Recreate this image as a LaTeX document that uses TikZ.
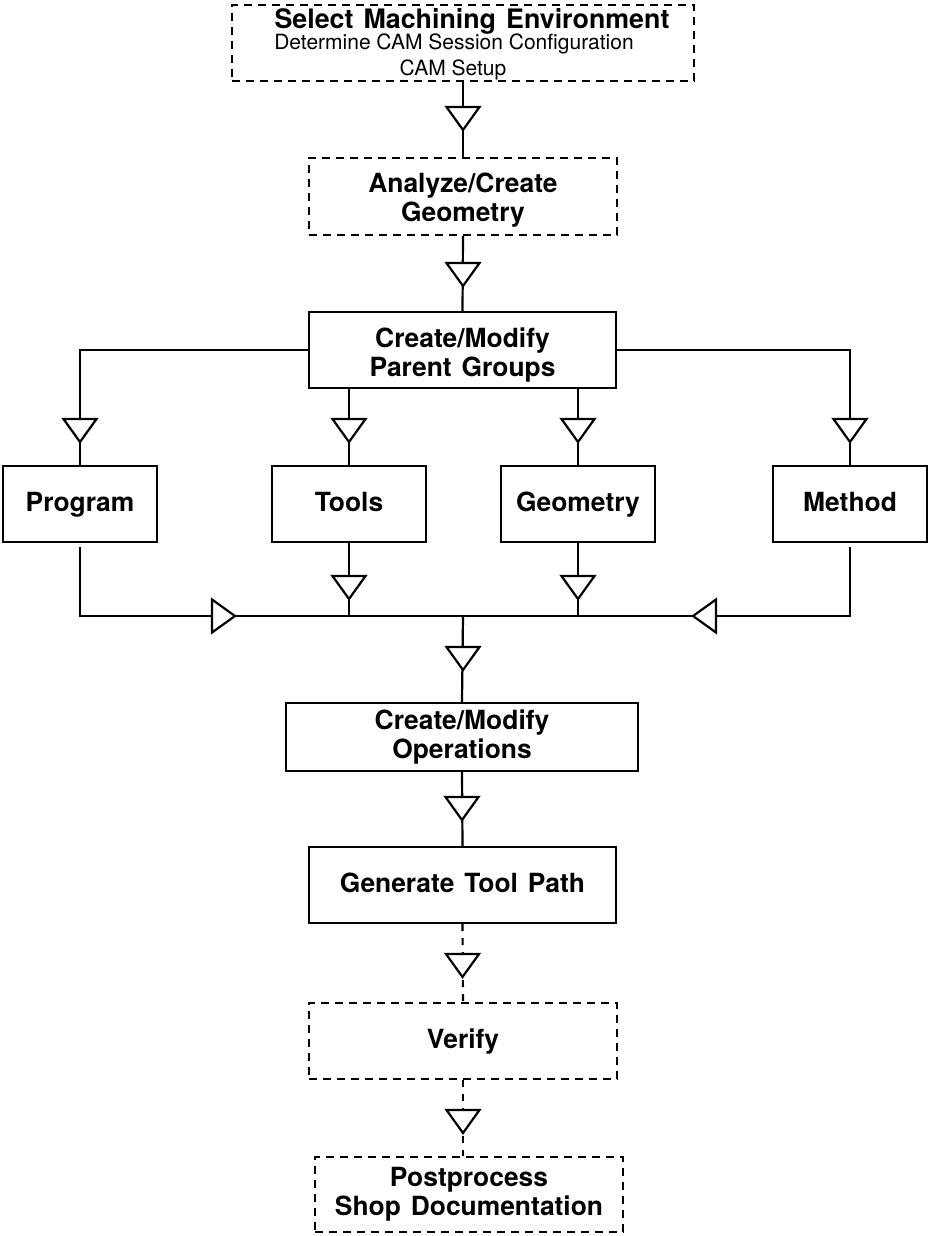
\documentclass[tikz,border=0pt]{standalone}
\usepackage{fontspec}
\setmainfont{TeX Gyre Heros}[BoldFeatures={WordSpace=1.35}]
\newcommand\lblfont{\fontsize{26.4}{29}\selectfont\bfseries}
\newcommand\titlefont{\fontsize{26.8}{29}\selectfont\bfseries}
\newcommand\subfont{\fontsize{21}{24}\selectfont}
\newcommand\upstrut[1]{\rule{0pt}{#1}}
\begin{document}
\begin{tikzpicture}[x=1pt,y=-1pt,
  box/.style={draw, line width=2.2pt, inner sep=0pt, align=center, font=\lblfont},
  dbox/.style={box, dash pattern=on 8pt off 6pt},
  oneline/.style={text height=20pt, text depth=5pt},
  conn/.style={line width=2.2pt},
  dconn/.style={line width=2.2pt, dash pattern=on 7pt off 7pt},
  tri/.pic={\draw[line width=2.2pt, fill=white, solid, line join=miter] (-16.5,0) -- (16.5,0) -- (0,23) -- cycle;}]
\useasboundingbox (0,0) rectangle (930,1236);

% nodes
\node[dbox, minimum width=462pt, minimum height=76pt] (env) at (463,43) {};
\node[anchor=base, font=\titlefont, inner sep=0pt] (envt) at (472,29) {Select Machining Environment};
\node[anchor=base, font=\subfont, inner sep=0pt] (envs) at (454,50) {Determine CAM Session Configuration};
\node[anchor=base, font=\subfont, inner sep=0pt] (envc) at (453,76) {CAM Setup};

\node[dbox, minimum width=308pt, minimum height=77pt] (geo1) at (463,196.5) {\upstrut{27pt}Analyze/Create\\Geometry};
\node[box, minimum width=307pt, minimum height=76pt] (pg) at (462.5,350) {\upstrut{29pt}Create/Modify\\Parent Groups};

\node[box, oneline, minimum width=154pt, minimum height=76pt] (prog) at (80,504) {Program};
\node[box, oneline, minimum width=154pt, minimum height=76pt] (tools) at (349,504) {Tools};
\node[box, oneline, minimum width=154pt, minimum height=76pt] (geom) at (578,504) {Geometry};
\node[box, oneline, minimum width=154pt, minimum height=76pt] (meth) at (850,504) {Method};

\coordinate (bus) at (463,616);

\node[box, minimum width=352pt, minimum height=68pt] (ops) at (462,737) {Create/Modify\\Operations};
\node[box, oneline, minimum width=307pt, minimum height=76pt] (gtp) at (462.5,885) {Generate Tool Path};
\node[dbox, oneline, minimum width=308pt, minimum height=76pt] (ver) at (463,1041) {Verify};
\node[dbox, minimum width=308pt, minimum height=75pt] (post) at (469,1194.5) {Postprocess\\Shop Documentation};

% connectors
\draw[conn] (env.south) -- (geo1.north);
\draw[conn] (geo1.south) -- (pg.north);
\draw[conn] (pg.west) -| (prog.north);
\draw[conn] (pg.east) -| (meth.north);
\draw[conn] (pg.south -| tools.north) -- (tools.north);
\draw[conn] (pg.south -| geom.north) -- (geom.north);
\draw[conn] (tools.south) -- (tools.south |- bus);
\draw[conn] (geom.south) -- (geom.south |- bus);
\draw[conn, shorten <=4pt] (prog.south) |- (bus);
\draw[conn, shorten <=4pt] (meth.south) |- (bus);
\draw[conn] (bus) -- (ops.north);
\draw[conn] (ops.south) -- (gtp.north);
\draw[dconn] (gtp.south) -- (ver.north);
\draw[dconn] (ver.south) -- (ver.south |- post.north);

% arrowheads
\pic at (463,107) {tri};
\pic at (463,263) {tri};
\pic at (80,419) {tri};
\pic at (349,419) {tri};
\pic at (578,419) {tri};
\pic at (850,419) {tri};
\pic at (349,576) {tri};
\pic at (578,576) {tri};
\pic[rotate=90] at (212,616) {tri};
\pic[rotate=-90] at (716,616) {tri};
\pic at (463,647) {tri};
\pic at (462,797) {tri};
\pic at (462.5,954) {tri};
\pic at (463,1110) {tri};
\end{tikzpicture}
\end{document}
